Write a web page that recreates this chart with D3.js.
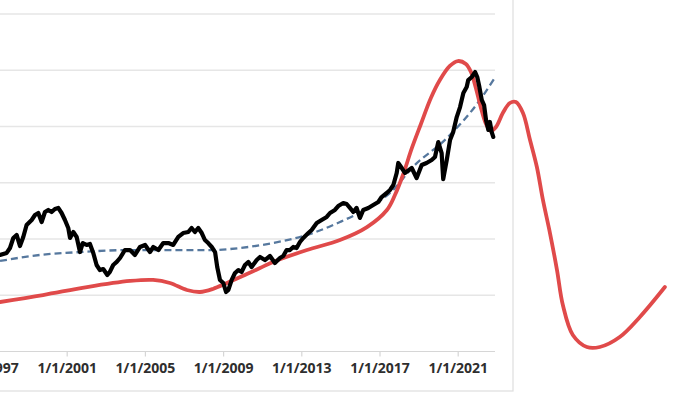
<!DOCTYPE html>
<html>
<head>
<meta charset="utf-8">
<script src="https://cdn.jsdelivr.net/npm/d3@7"></script>
<style>
  body { margin: 0; background: #fff; }
  svg { display: block; }
  .grid line { stroke: #e6e6e6; stroke-width: 1.3; }
  .frame { fill: none; stroke: #dedede; stroke-width: 1.2; }
  .axis-x path, .axis-x line { stroke: #d6d6d6; stroke-width: 1.2; }
  .axis-x text { font-family: "Open Sans", sans-serif; font-size: 14px; font-weight: 700; fill: #2e2e2e; }
  .price { fill: none; stroke: #000; stroke-width: 4.2; stroke-linejoin: round; stroke-linecap: round; }
  .trend { fill: none; stroke: #56789e; stroke-width: 2.3; stroke-dasharray: 7 4; }
  .model { fill: none; stroke: #e04a4a; stroke-width: 3.8; stroke-linecap: round; }
</style>
</head>
<body>
<svg width="700" height="394"></svg>
<script>
// price index (decimal year, value)
const price = [
  [1997.59, 858], [1997.93, 876], [1998.10, 920], [1998.27, 1009], [1998.44, 1036],
  [1998.61, 938], [1998.78, 1018], [1998.95, 1124], [1999.21, 1169], [1999.38, 1213],
  [1999.55, 1231], [1999.72, 1151], [1999.89, 1240], [2000.06, 1258], [2000.23, 1240],
  [2000.40, 1267], [2000.57, 1276], [2000.74, 1231], [2000.91, 1169], [2001.08, 1098],
  [2001.17, 1009], [2001.34, 1062], [2001.51, 1018], [2001.68, 884], [2001.82, 964],
  [2002.02, 947], [2002.19, 956], [2002.36, 876], [2002.53, 769], [2002.70, 724],
  [2002.87, 733], [2003.08, 680], [2003.21, 707], [2003.38, 769], [2003.56, 796],
  [2003.73, 831], [2003.98, 902], [2004.24, 902], [2004.49, 858], [2004.75, 929],
  [2005.01, 947], [2005.26, 884], [2005.43, 929], [2005.69, 902], [2005.94, 964],
  [2006.20, 964], [2006.45, 947], [2006.71, 1018], [2006.96, 1053], [2007.22, 1062],
  [2007.39, 1098], [2007.56, 1062], [2007.73, 1098], [2007.91, 1053], [2008.07, 991],
  [2008.24, 964], [2008.42, 929], [2008.59, 884], [2008.70, 751], [2008.84, 636],
  [2009.01, 609], [2009.15, 529], [2009.27, 547], [2009.44, 636], [2009.61, 698],
  [2009.78, 724], [2009.95, 707], [2010.12, 769], [2010.29, 796], [2010.46, 751],
  [2010.72, 813], [2010.89, 840], [2011.14, 813], [2011.40, 849], [2011.65, 787],
  [2011.91, 831], [2012.08, 849], [2012.25, 902], [2012.42, 902], [2012.59, 929],
  [2012.76, 920], [2012.93, 973], [2013.10, 1009], [2013.36, 1053], [2013.53, 1080],
  [2013.79, 1142], [2014.04, 1169], [2014.30, 1196], [2014.47, 1231], [2014.72, 1258],
  [2014.89, 1293], [2015.15, 1320], [2015.32, 1311], [2015.49, 1276], [2015.66, 1240],
  [2015.83, 1276], [2016.00, 1187], [2016.17, 1258], [2016.43, 1276], [2016.68, 1302],
  [2016.94, 1329], [2017.11, 1373], [2017.37, 1409], [2017.54, 1436], [2017.71, 1480],
  [2017.88, 1587], [2017.96, 1676], [2018.14, 1631], [2018.30, 1587], [2018.65, 1631],
  [2018.90, 1542], [2019.16, 1658], [2019.41, 1676], [2019.67, 1702], [2019.84, 1729],
  [2020.01, 1862], [2020.18, 1764], [2020.26, 1533], [2020.44, 1702], [2020.61, 1880],
  [2020.77, 1951], [2020.95, 2084], [2021.12, 2173], [2021.29, 2298], [2021.46, 2351],
  [2021.54, 2413], [2021.72, 2440], [2021.89, 2484], [2022.00, 2440], [2022.11, 2351],
  [2022.23, 2236], [2022.35, 2191], [2022.45, 2058], [2022.57, 1969], [2022.65, 2040],
  [2022.74, 1951], [2022.82, 1907]
];

// dashed trend line
const trend = [
  [1997.59, 805], [1999.63, 858], [2001.68, 884], [2004.24, 902], [2006.79, 902],
  [2008.48, 902], [2009.86, 920], [2011.55, 964], [2013.29, 1036], [2014.98, 1151],
  [2016.67, 1302], [2017.54, 1409], [2018.71, 1640], [2020.45, 1898], [2022.14, 2236],
  [2022.86, 2422]
];

// red model curve, runs past the plot
const model = [
  [1997.59, 440], [1999.79, 502], [2002.04, 573], [2004.24, 627], [2005.42, 636],
  [2006.28, 609], [2007.15, 547], [2007.82, 529], [2008.48, 556], [2009.20, 609],
  [2010.22, 689], [2010.89, 742], [2011.55, 796], [2013.29, 902], [2014.98, 991],
  [2016.36, 1106], [2017.38, 1258], [2017.79, 1391], [2018.20, 1569], [2018.66, 1809],
  [2019.12, 2022], [2019.63, 2253], [2020.09, 2413], [2020.60, 2538], [2021.01, 2582],
  [2021.42, 2556], [2021.68, 2484], [2021.93, 2342], [2022.19, 2164], [2022.45, 2022],
  [2022.70, 1960], [2022.96, 1996], [2023.31, 2120], [2023.67, 2209], [2023.98, 2218],
  [2024.34, 2120], [2024.70, 1880], [2025.05, 1640], [2025.36, 1347], [2025.72, 1053],
  [2026.08, 724], [2026.38, 413], [2026.89, 147], [2027.61, 40], [2028.27, 40],
  [2029.29, 129], [2030.32, 307], [2031.60, 573]
];

const tickYears = [1997, 2001, 2005, 2009, 2013, 2017, 2021];
const gridValues = [500, 1000, 1500, 2000, 2500, 3000];

function toDate(y) {
    const yr = Math.floor(y);
    const s = new Date(yr, 0, 1), e = new Date(yr + 1, 0, 1);
    return new Date(+s + (y - yr) * (e - s));
}

const svg = d3.select("svg");

const plotLeft = -40, plotRight = 495;

const x = d3.scaleTime()
    .domain([new Date(1997, 0, 1), new Date(2021, 0, 1)])
    .range([-11.5, 457.7]);

const y = d3.scaleLinear()
    .domain([0, 3000])
    .range([351.5, 14]);

// outer frame of the chart
svg.append("rect")
    .attr("class", "frame")
    .attr("x", -20).attr("y", -20)
    .attr("width", 533).attr("height", 411);

svg.append("g")
    .attr("class", "grid")
    .selectAll("line")
    .data(gridValues)
    .enter().append("line")
    .attr("x1", plotLeft).attr("x2", plotRight)
    .attr("y1", (d) => y(d)).attr("y2", (d) => y(d));

const xAxis = d3.axisBottom(x)
    .tickValues(tickYears.map((d) => new Date(d, 0, 1)))
    .tickFormat((d) => "1/1/" + d.getFullYear())
    .tickSize(5)
    .tickSizeOuter(0);

const gx = svg.append("g")
    .attr("class", "axis-x")
    .attr("transform", `translate(0,${y(0)})`)
    .call(xAxis);
gx.select(".domain").attr("d", `M${plotLeft},0H${plotRight}`);
gx.selectAll("text").attr("dy", "1.05em").attr("y", 7);

const line = d3.line()
    .x((d) => x(toDate(d[0])))
    .y((d) => y(d[1]));

svg.append("path")
    .attr("class", "trend")
    .attr("d", line.curve(d3.curveMonotoneX)(trend));

svg.append("path")
    .attr("class", "model")
    .attr("d", line.curve(d3.curveCatmullRom)(model));

svg.append("path")
    .attr("class", "price")
    .attr("d", line.curve(d3.curveLinear)(price));
</script>
</body>
</html>
